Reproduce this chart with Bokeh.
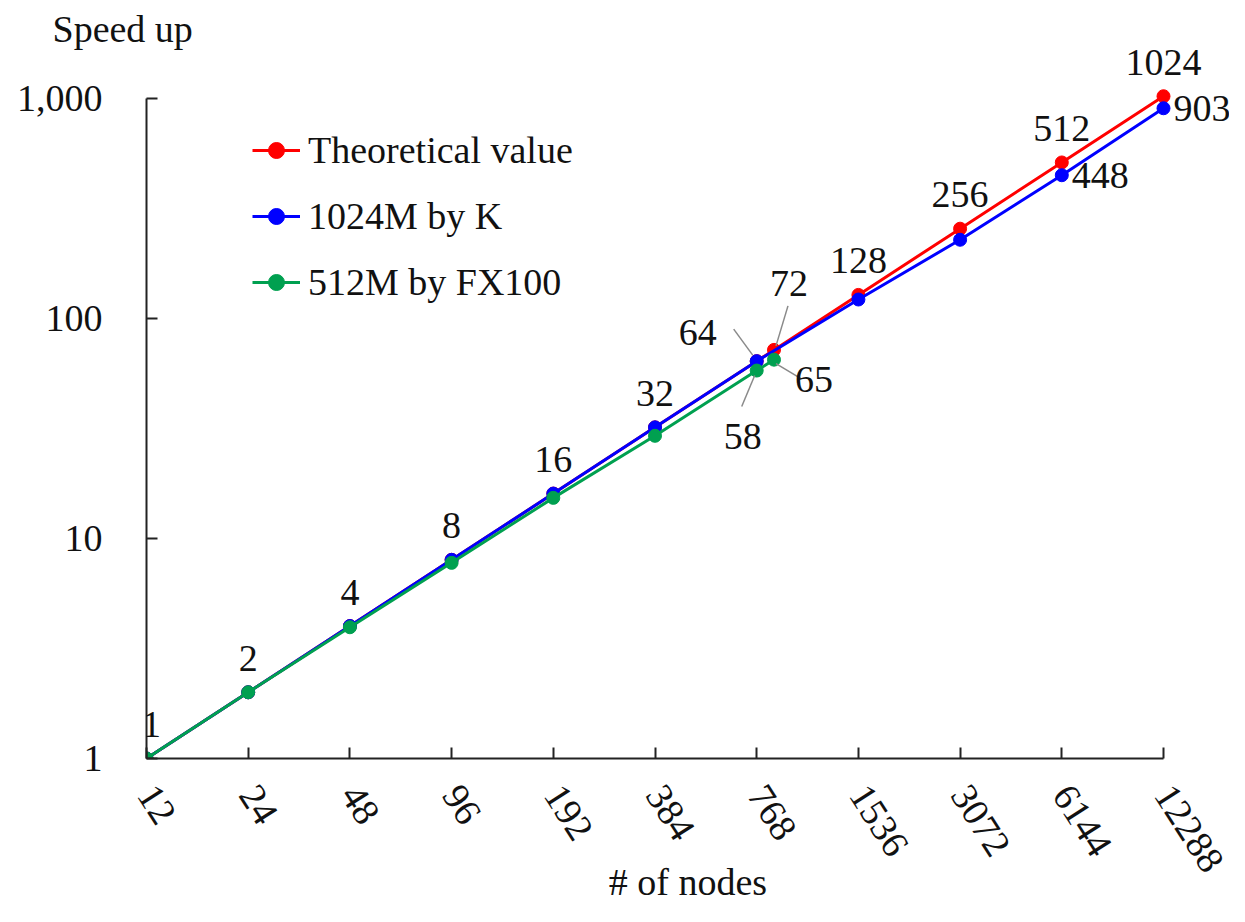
from bokeh.plotting import figure
from bokeh.models import (Range1d, FixedTicker, Legend, LegendItem, LabelSet,
                          ColumnDataSource)
from bokeh.embed import file_html
from bokeh.resources import INLINE
from bokeh.core.properties import value

# ---------------- data ----------------
x_ticks = [12, 24, 48, 96, 192, 384, 768, 1536, 3072, 6144, 12288]
x_tick_labels = ["12", "24", "48", "96", "192", "384", "768", "1536", "3072", "6144", "12288"]
y_ticks = [1, 10, 100, 1000]
y_tick_labels = ["1", "10", "100", "1,000"]

theo_nodes = [12, 24, 48, 96, 192, 384, 768, 864, 1536, 3072, 6144, 12288]
theo_speedup = [1, 2, 4, 8, 16, 32, 64, 72, 128, 256, 512, 1024]

k_nodes = [12, 24, 48, 96, 192, 384, 768, 1536, 3072, 6144, 12288]
k_speedup = [1, 2, 4, 8, 16, 32, 64, 122, 228, 448, 903]

fx_nodes = [12, 24, 48, 96, 192, 384, 768, 864]
fx_speedup = [1, 2, 3.95, 7.75, 15.3, 29.3, 58, 65]

series_names = ["Theoretical value", "1024M by K", "512M by FX100"]
series_colors = ["#FF0000", "#0000FF", "#00A050"]

# labels shown above theoretical points
top_label_nodes = [12, 24, 48, 96, 192, 384, 1536, 3072, 6144, 12288]
top_label_vals = [1, 2, 4, 8, 16, 32, 128, 256, 512, 1024]
top_label_text = ["1", "2", "4", "8", "16", "32", "128", "256", "512", "1024"]

# labels to the right of K points
right_label_nodes = [6144, 12288]
right_label_vals = [448, 903]
right_label_text = ["448", "903"]

# callout labels near 768 / 864
callout_nodes = [768, 864, 864, 768]
callout_vals = [64, 72, 65, 58]
callout_text = ["64", "72", "65", "58"]

# ---------------- geometry ----------------
FONT = "Liberation Serif"
FS = "38px"
W, H = 1229, 906
B_LEFT, B_TOP, B_BOTTOM, B_RIGHT = 146, 46, 148, 0
frame_w = W - B_LEFT - B_RIGHT
frame_h = H - B_TOP - B_BOTTOM
px_per_doubling = 101.7
px_per_decade = 220.0
x_end = x_ticks[0] * 2 ** (frame_w / px_per_doubling)
y_end = y_ticks[0] * 10 ** (frame_h / px_per_decade)

p = figure(width=W, height=H, x_axis_type="log", y_axis_type="log",
           x_range=Range1d(x_ticks[0], x_end), y_range=Range1d(y_ticks[0], y_end),
           output_backend="svg", toolbar_location=None,
           min_border_left=B_LEFT, min_border_top=B_TOP,
           min_border_bottom=B_BOTTOM, min_border_right=B_RIGHT,
           title="Speed up")
p.background_fill_color = "white"
p.border_fill_color = "white"
p.outline_line_color = None
p.grid.visible = False

p.title.text_font = FONT
p.title.text_font_size = FS
p.title.text_font_style = "normal"
p.title.text_color = "#111111"
p.title.align = "left"
p.title.offset = -94
p.title.standoff = -6

for ax in (p.xaxis[0], p.yaxis[0]):
    ax.axis_line_color = "#222222"
    ax.axis_line_width = 2
    ax.major_tick_line_color = "#222222"
    ax.major_tick_line_width = 2
    ax.major_tick_in = 11
    ax.major_tick_out = 0
    ax.minor_tick_line_color = None
    ax.major_label_text_font = FONT
    ax.major_label_text_font_size = FS
    ax.major_label_text_color = "#111111"

p.xaxis[0].ticker = FixedTicker(ticks=x_ticks)
p.xaxis[0].major_label_overrides = {t: l for t, l in zip(x_ticks, x_tick_labels)}
p.xaxis[0].major_label_orientation = -1.0
p.xaxis[0].major_label_standoff = 30
p.xaxis[0].bounds = (x_ticks[0], x_ticks[-1])
p.xaxis[0].axis_label = "# of nodes"
p.xaxis[0].axis_label_text_font = FONT
p.xaxis[0].axis_label_text_font_size = FS
p.xaxis[0].axis_label_text_font_style = "normal"
p.xaxis[0].axis_label_text_color = "#111111"
p.xaxis[0].axis_label_standoff = -24

p.yaxis[0].ticker = FixedTicker(ticks=y_ticks)
p.yaxis[0].major_label_overrides = {t: l for t, l in zip(y_ticks, y_tick_labels)}
p.yaxis[0].major_label_standoff = 44
p.yaxis[0].bounds = (y_ticks[0], y_ticks[-1])

renderers = []
for xs, ys, c in [(theo_nodes, theo_speedup, series_colors[0]),
                  (k_nodes, k_speedup, series_colors[1]),
                  (fx_nodes, fx_speedup, series_colors[2])]:
    l = p.line(xs, ys, line_color=c, line_width=3)
    s = p.scatter(xs, ys, marker="circle", size=13, fill_color=c, line_color=c)
    renderers.append([l, s])

# leader lines for callouts (pixel offsets converted to log-data factors)
def fx(px):
    return 2 ** (px / px_per_doubling)

def fy(px):
    return 10 ** (-px / px_per_decade)

lead_start = [(-23, -32), (14, -44), (2, 4), (-2, 5)]
lead_end = [(-4, -6), (2, -4), (27, 19), (-15, 36)]
x0 = [n * fx(a[0]) for n, a in zip(callout_nodes, lead_start)]
y0 = [v * fy(a[1]) for v, a in zip(callout_vals, lead_start)]
x1 = [n * fx(a[0]) for n, a in zip(callout_nodes, lead_end)]
y1 = [v * fy(a[1]) for v, a in zip(callout_vals, lead_end)]
p.segment(x0, y0, x1, y1, line_color="#8a8a8a", line_width=1.5)

# data labels
top_dx = [5, 0, 0, 0, 0, 0, 0, 0, 0, 0]
top_src = ColumnDataSource(dict(x=top_label_nodes, y=top_label_vals, t=top_label_text, dx=top_dx))
p.add_layout(LabelSet(x="x", y="y", text="t", source=top_src, x_offset="dx", y_offset=34,
                      text_align="center", text_baseline="middle",
                      text_font=value(FONT), text_font_size=FS, text_color="#111111"))

right_src = ColumnDataSource(dict(x=right_label_nodes, y=right_label_vals, t=right_label_text))
p.add_layout(LabelSet(x="x", y="y", text="t", source=right_src, x_offset=10, y_offset=0,
                      text_align="left", text_baseline="middle",
                      text_font=value(FONT), text_font_size=FS, text_color="#111111"))

co_dx = [-59, 15, 40, -14]
co_dy = [29, 66, -20, -66]
co_src = ColumnDataSource(dict(x=callout_nodes, y=callout_vals, t=callout_text,
                               dx=co_dx, dy=co_dy))
p.add_layout(LabelSet(x="x", y="y", text="t", source=co_src, x_offset="dx", y_offset="dy",
                      text_align="center", text_baseline="middle",
                      text_font=value(FONT), text_font_size=FS, text_color="#111111"))

legend = Legend(items=[LegendItem(label=n, renderers=r) for n, r in zip(series_names, renderers)],
                location=(106, 454), orientation="vertical",
                glyph_width=48, glyph_height=40, label_height=40, label_standoff=8,
                spacing=22, padding=0, margin=0,
                label_text_font=FONT, label_text_font_size=FS, label_text_color="#111111",
                border_line_color=None, background_fill_alpha=0)
p.add_layout(legend)

open("out.html", "w").write(file_html(p, INLINE))
